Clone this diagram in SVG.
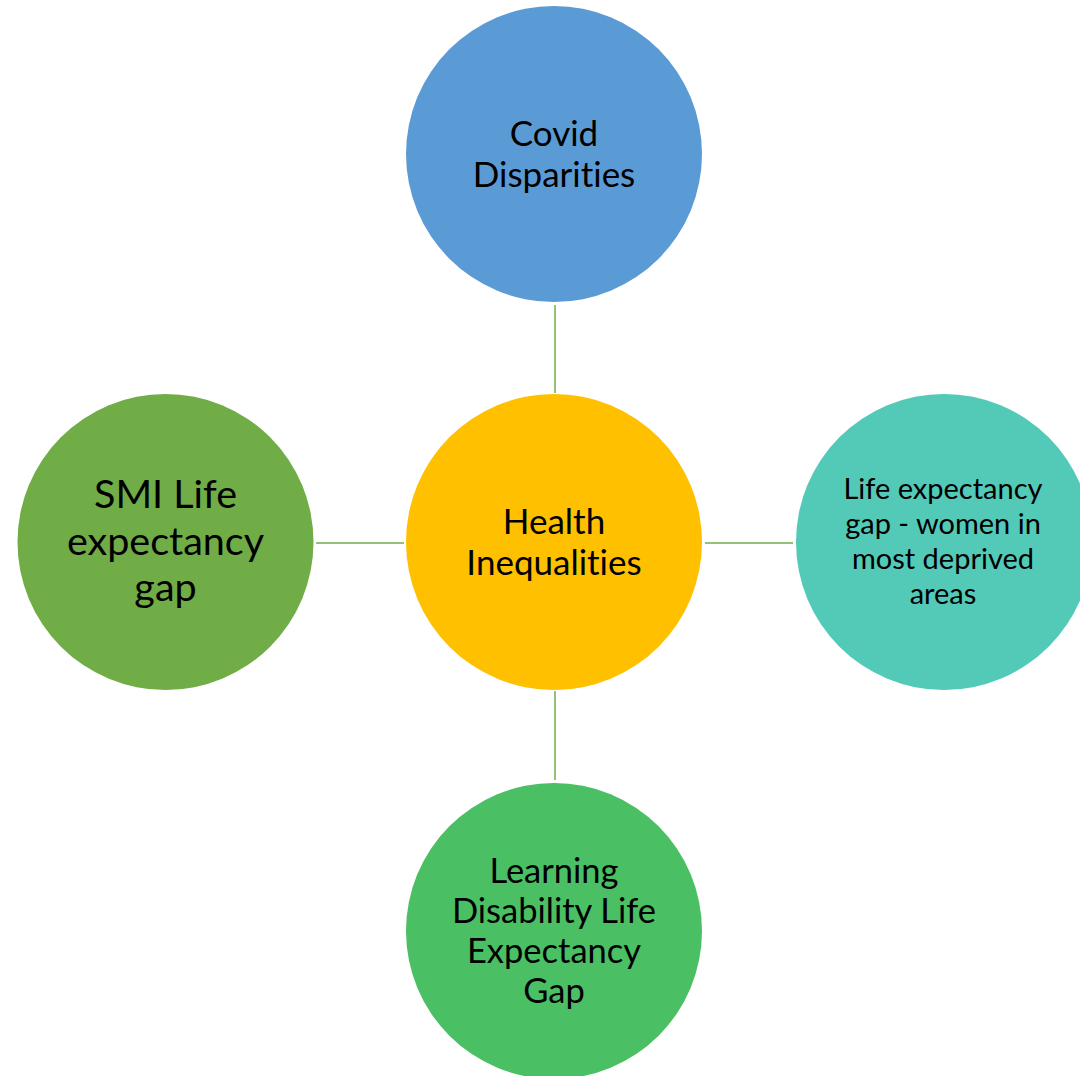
<svg xmlns="http://www.w3.org/2000/svg" width="1080" height="1076" viewBox="0 0 1080 1076">
<style>
  .lbl { font-family: Lato, "Open Sans", "Liberation Sans", sans-serif; fill: #000; text-anchor: middle; font-variant-ligatures: none; }
  .conn { stroke: #70ad47; stroke-width: 1.5; fill: none; }
</style>
<rect width="1080" height="1076" fill="#ffffff"/>
<g id="connectors">
  <line class="conn" x1="555" y1="305" x2="555" y2="393"/>
  <line class="conn" x1="555" y1="691" x2="555" y2="780"/>
  <line class="conn" x1="316" y1="543" x2="404" y2="543"/>
  <line class="conn" x1="705" y1="543" x2="793" y2="543"/>
</g>
<g id="node-covid">
  <circle cx="554" cy="154" r="148" fill="#5b9bd5"/>
  <text class="lbl" font-size="35" x="554" y="146">Covid</text>
  <text class="lbl" font-size="35" x="554" y="187">Disparities</text>
</g>
<g id="node-health">
  <circle cx="554" cy="542" r="148" fill="#ffc000"/>
  <text class="lbl" font-size="35" x="554" y="534">Health</text>
  <text class="lbl" font-size="35" x="554" y="575">Inequalities</text>
</g>
<g id="node-smi">
  <circle cx="165.5" cy="542" r="148" fill="#70ad47"/>
  <text class="lbl" font-size="39.5" x="165.5" y="508">SMI Life</text>
  <text class="lbl" font-size="39.5" x="165.5" y="555">expectancy</text>
  <text class="lbl" font-size="39.5" x="165.5" y="601">gap</text>
</g>
<g id="node-women">
  <circle cx="944" cy="542" r="148" fill="#53c9b8"/>
  <text class="lbl" font-size="29" x="943" y="499">Life expectancy</text>
  <text class="lbl" font-size="29" x="943" y="534">gap - women in</text>
  <text class="lbl" font-size="29" x="943" y="569">most deprived</text>
  <text class="lbl" font-size="29" x="943" y="604">areas</text>
</g>
<g id="node-ld">
  <circle cx="554" cy="931" r="148" fill="#4abf63"/>
  <text class="lbl" font-size="34.5" x="554" y="883">Learning</text>
  <text class="lbl" font-size="34.5" x="554" y="923">Disability Life</text>
  <text class="lbl" font-size="34.5" x="554" y="963">Expectancy</text>
  <text class="lbl" font-size="34.5" x="554" y="1003">Gap</text>
</g>
</svg>
